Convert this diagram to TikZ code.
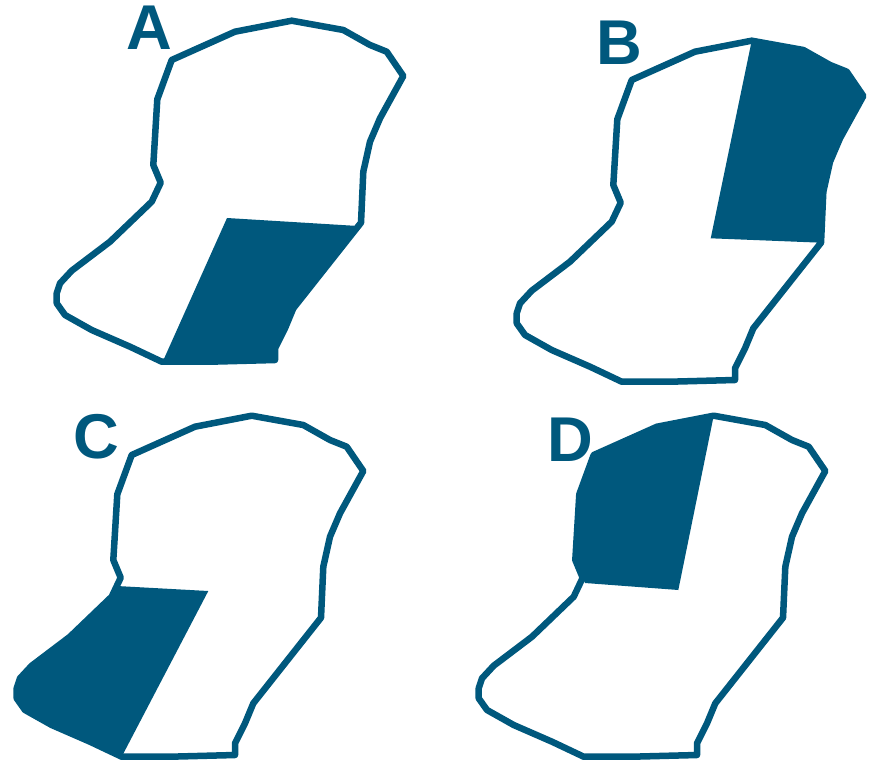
\documentclass[tikz,border=0pt]{standalone}
\usepackage{fontspec}
\setmainfont{Liberation Sans}
\definecolor{mapBlue}{HTML}{00587D}

% outline of the region, panel A coordinates (px)
\newcommand{\regionoutline}{(171.7,60) -- (235,31.7) -- (291.7,20.7) -- (343.3,30) -- (370,45) -- (386.7,51.7) -- (403.3,76) -- (380,118.3) -- (370,141.7) -- (363.3,171.7) -- (361,222.7) -- (293.3,308.3) -- (285,328.3) -- (275,348.3) -- (275,360) -- (210,361.7) -- (161.7,361.7) -- (130,346.7) -- (91.7,330) -- (65,315) -- (56.7,303.3) -- (56.7,293.3) -- (60,283.3) -- (71.7,270.7) -- (110,241.7) -- (151.7,201.7) -- (160.7,182.7) -- (153.3,165) -- (157.3,99.3) -- cycle}

\begin{document}
\begin{tikzpicture}[
  x=0.01cm, y=-0.01cm,
  border/.style={draw=mapBlue, line width=1.85pt, line join=round},
  part/.style={fill=mapBlue},
  tag/.style={font=\fontsize{18}{18}\selectfont\bfseries, text=mapBlue, inner sep=0pt},
]
  \useasboundingbox (0,0) rectangle (871,764);

  % A: lower right
  \begin{scope}
    \path[part] (227,218) -- (358,226) -- (293.3,308.3) -- (285,328.3) -- (275,348.3) -- (275,360) -- (210,361.7) -- (163,361) -- cycle;
    \draw[border] \regionoutline;
  \end{scope}

  % B: upper right
  \begin{scope}[shift={(460,20)}]
    \path[part] (291.7,20.7) -- (343.3,30) -- (370,45) -- (386.7,51.7) -- (403.3,76) -- (380,118.3) -- (370,141.7) -- (363.3,171.7) -- (361,222.7) -- (250.7,218.3) -- cycle;
    \draw[border] \regionoutline;
  \end{scope}

  % C: lower left
  \begin{scope}[shift={(-40,395)}]
    \path[part] (157,191) -- (248.3,196) -- (161.7,361.7) -- (130,346.7) -- (91.7,330) -- (65,315) -- (56.7,303.3) -- (56.7,293.3) -- (60,283.3) -- (71.7,270.7) -- (110,241.7) -- (151.7,201.7) -- cycle;
    \draw[border] \regionoutline;
  \end{scope}

  % D: upper left
  \begin{scope}[shift={(422,395)}]
    \path[part] (171.7,60) -- (235,31.7) -- (291.7,20.7) -- (256.3,195) -- (163,188) -- (160.7,182.7) -- (153.3,165) -- (157.3,99.3) -- cycle;
    \draw[border] \regionoutline;
  \end{scope}

  \node[tag] (tagA) at (149,28) {A};
  \node[tag] (tagB) at (619,43) {B};
  \node[tag] (tagC) at (96.7,436.7) {C};
  \node[tag] (tagD) at (570,440) {D};
\end{tikzpicture}
\end{document}
